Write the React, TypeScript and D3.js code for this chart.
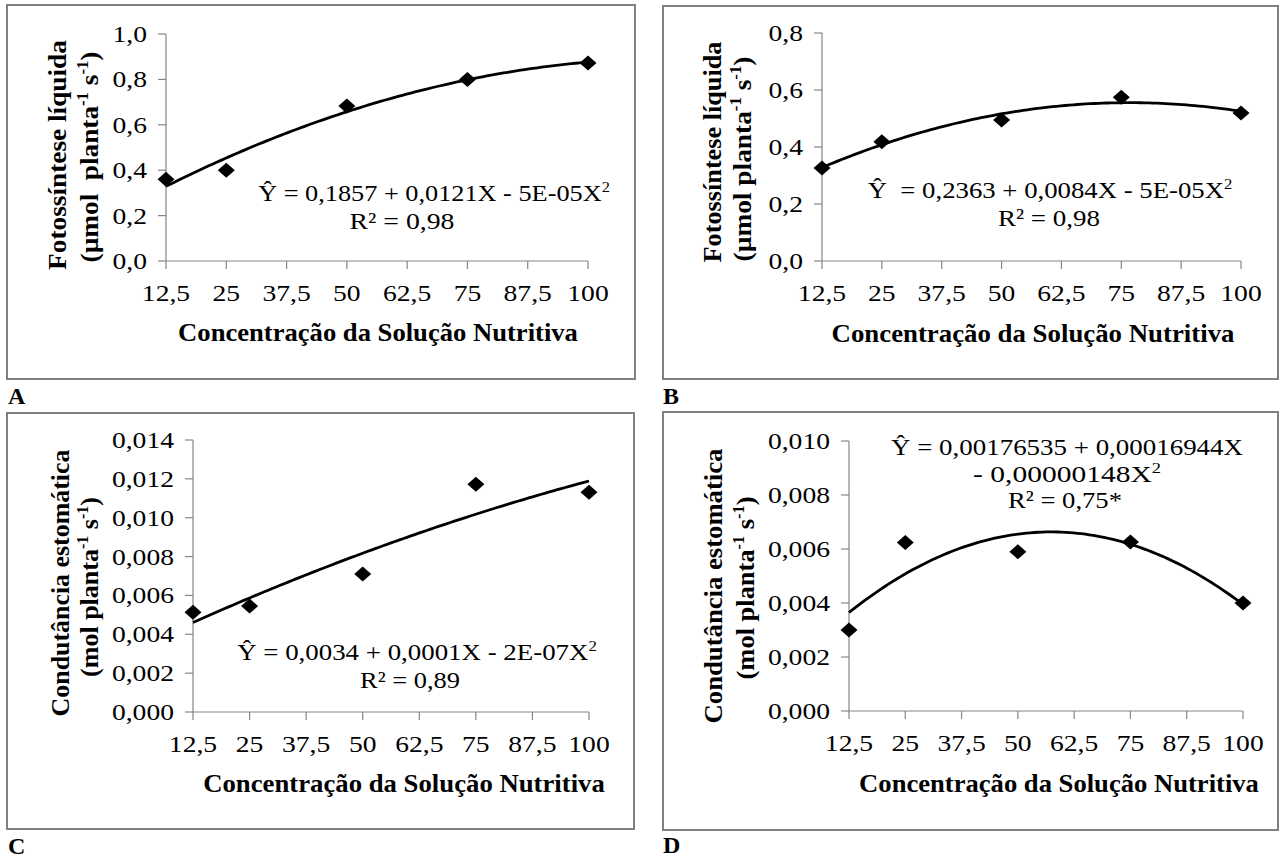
import React, { useLayoutEffect, useRef, useState } from "react";
import * as d3 from "d3";

// ---------- DATA ----------
const X_VALUES = [12.5, 25, 50, 75, 100];
const X_TICKS = [12.5, 25, 37.5, 50, 62.5, 75, 87.5, 100];

const FOTO_A = [0.36, 0.40, 0.683, 0.80, 0.872];
const FOTO_B = [0.326, 0.418, 0.495, 0.575, 0.519];
const COND_C = [0.00514, 0.00545, 0.0071, 0.01172, 0.01131];
const COND_D = [0.0030, 0.00624, 0.0059, 0.00626, 0.0040];

const Y_TICKS_A = [0, 0.2, 0.4, 0.6, 0.8, 1.0];
const Y_TICKS_B = [0, 0.2, 0.4, 0.6, 0.8];
const Y_TICKS_C = [0, 0.002, 0.004, 0.006, 0.008, 0.01, 0.012, 0.014];
const Y_TICKS_D = [0, 0.002, 0.004, 0.006, 0.008, 0.01];

const X_TITLE = "Concentração da Solução Nutritiva";
const Y_TITLE_FOTO = "Fotossíntese líquida";
const Y_TITLE_COND = "Condutância estomática";

const EQ_A = ["Ŷ = 0,1857 + 0,0121X - 5E-05X", "R² = 0,98"];
const EQ_B = ["Ŷ  = 0,2363 + 0,0084X - 5E-05X", "R² = 0,98"];
const EQ_C = ["Ŷ = 0,0034 + 0,0001X - 2E-07X", "R² = 0,89"];
const EQ_D = ["Ŷ = 0,00176535 + 0,00016944X", "- 0,00000148X", "R² = 0,75*"];

// ---------- HELPERS ----------
const FONT = "Liberation Serif, Times New Roman, Times, serif";

function quadFit(xs: number[], ys: number[]) {
  // least squares y = a + b x + c x^2 (Excel polynomial trendline)
  let s0 = 0, s1 = 0, s2 = 0, s3 = 0, s4 = 0, t0 = 0, t1 = 0, t2 = 0;
  xs.forEach((x, i) => {
    const y = ys[i];
    s0 += 1; s1 += x; s2 += x * x; s3 += x ** 3; s4 += x ** 4;
    t0 += y; t1 += x * y; t2 += x * x * y;
  });
  const M = [
    [s0, s1, s2, t0],
    [s1, s2, s3, t1],
    [s2, s3, s4, t2],
  ];
  for (let i = 0; i < 3; i++) {
    for (let j = i + 1; j < 3; j++) {
      const f = M[j][i] / M[i][i];
      for (let k = i; k < 4; k++) M[j][k] -= f * M[i][k];
    }
  }
  const r = [0, 0, 0];
  for (let i = 2; i >= 0; i--) {
    let s = M[i][3];
    for (let k = i + 1; k < 3; k++) s -= M[i][k] * r[k];
    r[i] = s / M[i][i];
  }
  return (x: number) => r[0] + r[1] * x + r[2] * x * x;
}

type Part = { t: string; sup?: boolean };

function renderParts(parts: Part[], supSize: number, shift: number) {
  const out: any[] = [];
  let up = false;
  parts.forEach((p, i) => {
    if (p.sup) {
      out.push(
        <tspan key={i} dy={up ? undefined : -shift} fontSize={supSize}>{p.t}</tspan>
      );
      up = true;
    } else {
      out.push(
        <tspan key={i} dy={up ? shift : undefined}>{p.t}</tspan>
      );
      up = false;
    }
  });
  return out;
}

function FitText(props: {
  x: number; y: number; rotate?: number; len?: number; sx?: number;
  anchor?: string; size: number; bold?: boolean; parts: Part[];
}) {
  const { x, y, rotate = 0, len, sx = 1, anchor = "middle", size, bold, parts } = props;
  const ref = useRef<SVGTextElement>(null);
  const [k, setK] = useState(sx);
  useLayoutEffect(() => {
    if (ref.current && len) {
      const n = ref.current.getComputedTextLength();
      if (n > 0) setK(len / n);
    }
  }, [len]);
  // baseline placed so that the glyph body is centred on (x, y)
  const base = Math.round(size * 0.33);
  return (
    <g transform={`translate(${x},${y}) rotate(${rotate})`}>
      <text
        ref={ref}
        x={0}
        y={base}
        transform={`scale(${k},1)`}
        textAnchor={anchor as any}
        fontSize={size}
        fontWeight={bold ? "bold" : "normal"}
        fontFamily={FONT}
        fill="#000"
        style={{ whiteSpace: "pre" }}
      >
        {renderParts(parts, Math.round(size * 0.62), Math.round(size * 0.38))}
      </text>
    </g>
  );
}

// ---------- PANEL LAYOUT ----------
type PanelCfg = {
  letter: string;
  letterPos: [number, number];
  box: [number, number, number, number];
  xr: [number, number];
  yr: [number, number];
  yMax: number;
  yTicks: number[];
  yFmt: string;
  values: number[];
  yTitle1: string;
  yTitle2: Part[];
  yt1: [number, number, number];
  yt2: [number, number, number];
  xTitle: [number, number, number];
  eq: { parts: Part[]; cx: number; cy: number; len: number }[];
};

const sup = (t: string): Part => ({ t, sup: true });

const PANELS: PanelCfg[] = [
  {
    letter: "A", letterPos: [8, 404], box: [7, 5, 635, 379],
    xr: [166, 588], yr: [261, 34], yMax: 1.0, yTicks: Y_TICKS_A, yFmt: ".1f",
    values: FOTO_A, yTitle1: Y_TITLE_FOTO,
    yTitle2: [{ t: "(µmol  planta" }, sup("-1"), { t: " s" }, sup("-1"), { t: ")" }],
    yt1: [57, 155, 230], yt2: [89, 157, 211], xTitle: [378, 332, 400],
    eq: [
      { parts: [{ t: EQ_A[0] }, sup("2")], cx: 434, cy: 193, len: 352 },
      { parts: [{ t: EQ_A[1] }], cx: 402, cy: 221, len: 105 },
    ],
  },
  {
    letter: "B", letterPos: [663, 404], box: [663, 6, 1278, 379],
    xr: [822, 1241], yr: [261, 33], yMax: 0.8, yTicks: Y_TICKS_B, yFmt: ".1f",
    values: FOTO_B, yTitle1: Y_TITLE_FOTO,
    yTitle2: [{ t: "(µmol planta" }, sup("-1"), { t: " s" }, sup("-1"), { t: ")" }],
    yt1: [712, 152, 221], yt2: [742, 159, 205], xTitle: [1033, 333, 403],
    eq: [
      { parts: [{ t: EQ_B[0] }, sup("2")], cx: 1050, cy: 190, len: 365 },
      { parts: [{ t: EQ_B[1] }], cx: 1049, cy: 218, len: 102 },
    ],
  },
  {
    letter: "C", letterPos: [8, 854], box: [7, 413, 634, 829],
    xr: [193, 589], yr: [712, 440], yMax: 0.014, yTicks: Y_TICKS_C, yFmt: ".3f",
    values: COND_C, yTitle1: Y_TITLE_COND,
    yTitle2: [{ t: "(mol planta" }, sup("-1"), { t: " s" }, sup("-1"), { t: ")" }],
    yt1: [60, 583, 267], yt2: [89, 587, 180], xTitle: [404, 783, 402],
    eq: [
      { parts: [{ t: EQ_C[0] }, sup("2")], cx: 417, cy: 652, len: 360 },
      { parts: [{ t: EQ_C[1] }], cx: 410, cy: 680, len: 100 },
    ],
  },
  {
    letter: "D", letterPos: [663, 853], box: [663, 412, 1278, 830],
    xr: [849, 1243], yr: [711, 441], yMax: 0.010, yTicks: Y_TICKS_D, yFmt: ".3f",
    values: COND_D, yTitle1: Y_TITLE_COND,
    yTitle2: [{ t: "(mol planta" }, sup("-1"), { t: " s" }, sup("-1"), { t: ")" }],
    yt1: [713, 586, 275], yt2: [745, 588, 183], xTitle: [1059, 783, 400],
    eq: [
      { parts: [{ t: EQ_D[0] }], cx: 1067, cy: 447, len: 352 },
      { parts: [{ t: EQ_D[1] }, sup("2")], cx: 1067, cy: 474, len: 188 },
      { parts: [{ t: EQ_D[2] }], cx: 1065, cy: 500, len: 114 },
    ],
  },
];

const AXIS = "#868686";
const TICK_SIZE = 23;
const TICK_SX = 1.2;

function Panel({ p }: { p: PanelCfg }) {
  const x = d3.scaleLinear().domain([12.5, 100]).range(p.xr);
  const y = d3.scaleLinear().domain([0, p.yMax]).range(p.yr);
  const fmt = (v: number) => d3.format(p.yFmt)(v).replace(".", ",");
  const xFmt = (v: number) => String(v).replace(".", ",");
  const fit = quadFit(X_VALUES, p.values);
  const samples = d3.range(0, 101).map((i) => 12.5 + (87.5 * i) / 100);
  const line = d3
    .line<number>()
    .x((v) => x(v))
    .y((v) => y(fit(v)))
    .curve(d3.curveLinear);
  const [bx0, by0, bx1, by1] = p.box;
  const x0 = p.xr[0];
  const yb = p.yr[0];
  return (
    <g>
      <rect x={bx0} y={by0} width={bx1 - bx0} height={by1 - by0} fill="#fff" stroke="#808080" strokeWidth={2} />
      {/* axes */}
      <line x1={x0} x2={x0} y1={y(0)} y2={y(p.yMax)} stroke={AXIS} strokeWidth={1.2} />
      <line x1={x(12.5)} x2={x(100)} y1={yb} y2={yb} stroke={AXIS} strokeWidth={1.2} />
      {p.yTicks.map((t) => (
        <g key={"yt" + t}>
          <line x1={x0 - 8} x2={x0} y1={y(t)} y2={y(t)} stroke={AXIS} strokeWidth={1.2} />
          <FitText x={x0 - 19} y={y(t)} anchor="end" size={TICK_SIZE} sx={TICK_SX} parts={[{ t: fmt(t) }]} />
        </g>
      ))}
      {X_TICKS.map((t) => (
        <g key={"xt" + t}>
          <line x1={x(t)} x2={x(t)} y1={yb} y2={yb + 8} stroke={AXIS} strokeWidth={1.2} />
          <FitText x={x(t)} y={yb + 32} anchor="middle" size={TICK_SIZE} sx={TICK_SX} parts={[{ t: xFmt(t) }]} />
        </g>
      ))}
      {/* trend line */}
      <path d={line(samples) || ""} fill="none" stroke="#000" strokeWidth={2.8} />
      {/* points */}
      {X_VALUES.map((xv, i) => (
        <path
          key={"pt" + i}
          transform={`translate(${x(xv)},${y(p.values[i])})`}
          d="M0,-7.5 L8.5,0 L0,7.5 L-8.5,0 Z"
          fill="#000"
        />
      ))}
      {/* titles */}
      <FitText x={p.xTitle[0]} y={p.xTitle[1]} len={p.xTitle[2]} size={26} bold parts={[{ t: X_TITLE }]} />
      <FitText x={p.yt1[0]} y={p.yt1[1]} len={p.yt1[2]} rotate={-90} size={26} bold parts={[{ t: p.yTitle1 }]} />
      <FitText x={p.yt2[0]} y={p.yt2[1]} len={p.yt2[2]} rotate={-90} size={26} bold parts={p.yTitle2} />
      {p.eq.map((e, i) => (
        <FitText key={"eq" + i} x={e.cx} y={e.cy} len={e.len} size={24} parts={e.parts} />
      ))}
      <text x={p.letterPos[0]} y={p.letterPos[1]} fontFamily={FONT} fontWeight="bold" fontSize={24}>
        {p.letter}
      </text>
    </g>
  );
}

export default function App() {
  return (
    <svg
      width={1284}
      height={858}
      style={{ position: "absolute", left: 0, top: 0, background: "#fff" }}
    >
      <rect x={0} y={0} width={1284} height={858} fill="#fff" />
      {PANELS.map((p) => (
        <Panel key={p.letter} p={p} />
      ))}
    </svg>
  );
}
